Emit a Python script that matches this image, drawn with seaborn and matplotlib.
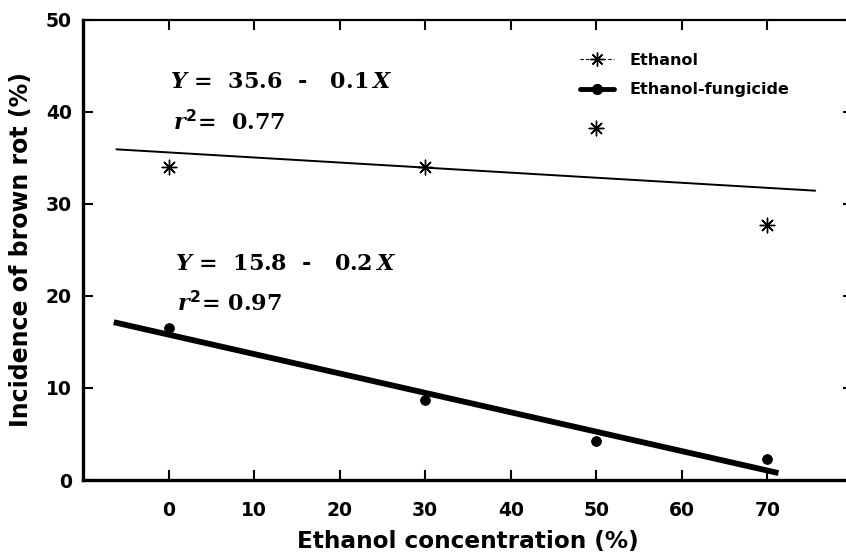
import matplotlib.pyplot as plt
import seaborn as sns
from matplotlib.lines import Line2D

# values
concentration = [0, 30, 50, 70]
ethanol_rot = [34.0, 34.0, 38.2, 27.7]
fungicide_rot = [16.5, 8.7, 4.2, 2.3]

# regression lines: (intercept, slope) and the x span they are drawn over
ethanol_fit = (35.6, -0.055)
fungicide_fit = (15.8, -0.211)
ethanol_fit_x = [-6.1, 75.6]
fungicide_fit_x = [-6.4, 71.3]

x_ticks = [0, 10, 20, 30, 40, 50, 60, 70]
y_ticks = [0, 10, 20, 30, 40, 50]

sns.set_style("ticks", {
    "axes.edgecolor": "black",
    "axes.labelcolor": "black",
    "text.color": "black",
    "xtick.color": "black",
    "ytick.color": "black",
})
plt.rcParams["font.family"] = ["DejaVu Sans"]
plt.rcParams["mathtext.fontset"] = "custom"
plt.rcParams["mathtext.it"] = "DejaVu Serif:italic:bold"
plt.rcParams["mathtext.rm"] = "DejaVu Sans:bold"


def fit_line(fit, xs):
    b, m = fit
    return [b + m * x for x in xs]


fig = plt.figure(figsize=(8.46, 5.53), dpi=100)
# right spine sits just past the edge of the picture, as in the scan
ax = fig.add_axes([0.0981, 0.132, 0.910, 0.832])

sns.lineplot(x=ethanol_fit_x, y=fit_line(ethanol_fit, ethanol_fit_x),
             color="black", linewidth=1.4, ax=ax)
sns.lineplot(x=fungicide_fit_x, y=fit_line(fungicide_fit, fungicide_fit_x),
             color="black", linewidth=4.2, solid_capstyle="butt", ax=ax)
sns.scatterplot(x=concentration, y=ethanol_rot, marker=(8, 2, 0), s=110,
                color="black", linewidth=1.0, ax=ax)
sns.scatterplot(x=concentration, y=fungicide_rot, marker="o", s=50,
                color="black", edgecolor="black", ax=ax)

ax.set_xlim(-10, 80)
ax.set_ylim(0, 50)
ax.set_xticks(x_ticks)
ax.set_yticks(y_ticks)

ax.tick_params(direction="in", length=7, width=1.5, top=True, right=True,
               labelsize=13.5, colors="black")
ax.tick_params(axis="x", pad=15)
ax.tick_params(axis="y", pad=8)
for lab in ax.get_xticklabels() + ax.get_yticklabels():
    lab.set_fontweight("bold")

for side in ["left", "bottom"]:
    ax.spines[side].set_linewidth(2.4)
ax.spines["top"].set_linewidth(1.6)
ax.spines["right"].set_linewidth(1.6)

ax.set_xlabel("Ethanol concentration (%)", fontsize=16.7, fontweight="bold",
              labelpad=7)
ax.set_ylabel("Incidence of brown rot (%)", fontsize=17, fontweight="bold",
              labelpad=9)

# regression equations
eq_kw = dict(family="DejaVu Serif", fontweight="bold", fontsize=16,
             va="baseline", ha="left", color="black")
ax.text(0.2, 42.6, r"$Y$ =  35.6  -   0.1$\,X$", **eq_kw)
ax.text(0.5, 38.0, r"$r^{2}$=  0.77", **eq_kw)
ax.text(0.8, 22.8, r"$Y$ =  15.8  -   0.2$\,X$", **eq_kw)
ax.text(1.0, 18.3, r"$r^{2}$= 0.97", **eq_kw)

handles = [
    Line2D([], [], color="black", linestyle=(0, (3, 2)), linewidth=0.8,
           marker=(8, 2, 0), markersize=10, markeredgewidth=1.0),
    Line2D([], [], color="black", linewidth=3.5, marker="o", markersize=7),
]
ax.legend(handles, ["Ethanol", "Ethanol-fungicide"], loc="upper left",
          bbox_to_anchor=(580 / 846, 1 - 53 / 553),
          bbox_transform=fig.transFigure, frameon=False, borderpad=0,
          borderaxespad=0, handlelength=2.1, handletextpad=1.0,
          labelspacing=0.9, prop={"weight": "bold", "size": 11.5})

fig.savefig("out.png", dpi=100)
plt.close(fig)
